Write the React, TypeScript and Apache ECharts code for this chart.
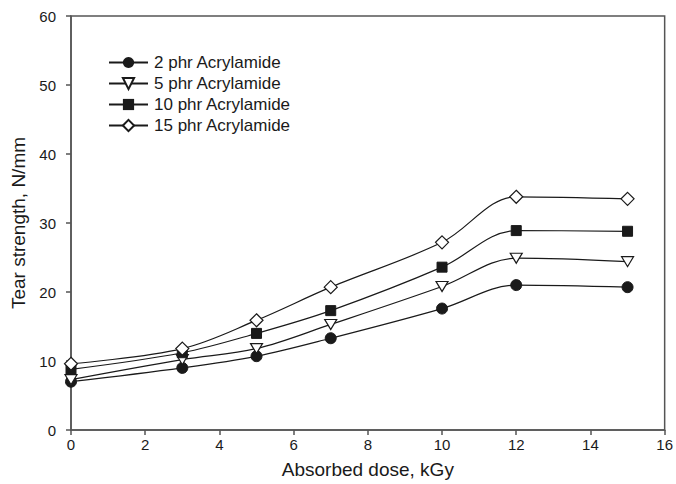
import React, { useEffect, useRef } from "react";
import * as echarts from "echarts";

const doses = [0, 3, 5, 7, 10, 12, 15];
const phr2 = [7.0, 9.0, 10.7, 13.3, 17.6, 21.0, 20.7];
const phr5 = [7.3, 10.2, 11.8, 15.3, 20.8, 24.9, 24.4];
const phr10 = [8.8, 11.2, 14.0, 17.3, 23.6, 28.9, 28.8];
const phr15 = [9.6, 11.8, 15.9, 20.7, 27.2, 33.8, 33.5];
const seriesNames = ["2 phr Acrylamide", "5 phr Acrylamide", "10 phr Acrylamide", "15 phr Acrylamide"];

const pair = (ys: number[]) => doses.map((d, i) => [d, ys[i]]);

export default function App() {
  const ref = useRef<HTMLDivElement>(null);
  useEffect(() => {
    if (!ref.current) return;
    const chart = echarts.init(ref.current, null, { renderer: "svg" });
    const font = "Liberation Sans, Arial, sans-serif";
    const ink = "#1a1a1a";
    const common = {
      type: "line" as const,
      smooth: 0.35,
      lineStyle: { color: ink, width: 1.2 },
    };
    chart.setOption({
      animation: false,
      textStyle: { fontFamily: font },
      grid: { left: 71, right: 9, top: 16, bottom: 52, show: true, borderColor: "#555", borderWidth: 1.5 },
      legend: {
        orient: "vertical",
        left: 103,
        top: 49,
        itemWidth: 39,
        itemHeight: 14,
        itemGap: 4,
        textStyle: { fontFamily: font, fontSize: 17, color: ink, padding: [0, 0, 0, 1] },
        data: seriesNames,
      },
      xAxis: {
        type: "value",
        min: 0,
        max: 16,
        interval: 2,
        name: "Absorbed dose, kGy",
        nameLocation: "middle",
        nameGap: 30,
        nameTextStyle: { fontSize: 19, color: ink },
        axisLine: { lineStyle: { color: "#555", width: 1.5 } },
        axisTick: { show: true, length: 5, lineStyle: { color: "#555", width: 1.5 } },
        axisLabel: { fontSize: 15, color: ink, margin: 7 },
        splitLine: { show: false },
      },
      yAxis: {
        type: "value",
        min: 0,
        max: 60,
        interval: 10,
        name: "Tear strength, N/mm",
        nameLocation: "middle",
        nameGap: 41,
        nameTextStyle: { fontSize: 19, color: ink },
        axisLine: { show: true, lineStyle: { color: "#555", width: 1.5 } },
        axisTick: { show: true, length: 5, lineStyle: { color: "#555", width: 1.5 } },
        axisLabel: { fontSize: 15, color: ink, margin: 15 },
        splitLine: { show: false },
      },
      series: [
        {
          ...common,
          name: seriesNames[0],
          data: pair(phr2),
          symbol: "circle",
          symbolSize: 11,
          itemStyle: { color: ink, borderColor: ink },
        },
        {
          ...common,
          name: seriesNames[1],
          data: pair(phr5),
          symbol: "path://M0,0 L12,0 L6,10 Z",
          symbolSize: [12, 10],
          itemStyle: { color: "#fff", borderColor: ink, borderWidth: 1.2 },
        },
        {
          ...common,
          name: seriesNames[2],
          data: pair(phr10),
          symbol: "rect",
          symbolSize: 10,
          itemStyle: { color: ink, borderColor: ink },
        },
        {
          ...common,
          name: seriesNames[3],
          data: pair(phr15),
          symbol: "diamond",
          symbolSize: 13,
          itemStyle: { color: "#fff", borderColor: ink, borderWidth: 1.2 },
        },
      ],
    });
    return () => chart.dispose();
  }, []);
  return <div ref={ref} style={{ width: 676, height: 484, position: "absolute", left: 0, top: 0 }} />;
}
